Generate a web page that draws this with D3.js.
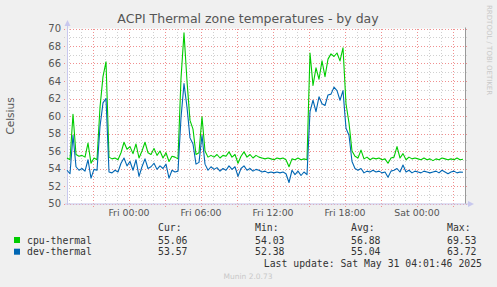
<!DOCTYPE html>
<html>
<head>
<meta charset="utf-8">
<script src="https://cdn.jsdelivr.net/npm/d3@7/dist/d3.min.js"></script>
<style>
  body { margin: 0; background: #f0f0f0; }
  text { font-family: "DejaVu Sans", sans-serif; }
  .mono { font-family: "DejaVu Sans Mono", monospace; }
</style>
</head>
<body>
<script>
// samples every 15 minutes, starting Thu May 29 18:50
const startTime = new Date(2025, 4, 29, 18, 50);
const stepMinutes = 15;

const cpuThermal = [
  55.2, 55.0, 60.2, 55.6, 55.4, 55.5, 55.3, 56.9, 54.6, 55.2, 55.0, 61.0, 64.5, 66.2,
  55.3, 55.1, 55.2, 55.0, 55.8, 57.0, 56.2, 56.5, 55.7, 56.8, 55.2, 56.0, 57.0, 55.8,
  55.6, 56.3, 55.5, 56.0, 55.2, 55.8, 54.8, 55.4, 55.3, 55.1, 64.3, 69.5, 64.0, 59.5,
  58.5, 55.6, 55.8, 59.9, 56.0, 55.3, 55.5, 55.3, 55.6, 55.2, 55.5, 55.4, 55.9, 55.3,
  55.6, 54.6, 55.4, 55.9, 55.3, 55.6, 55.2, 55.5, 55.3, 55.2, 55.1, 55.2, 55.1, 55.0,
  55.2, 55.1, 55.2, 55.0, 54.2, 55.1, 55.0, 55.2, 55.0, 55.1, 55.0, 67.2, 63.5, 65.5,
  64.2, 66.3, 64.5, 66.5, 67.1, 66.8, 67.2, 66.3, 67.8, 61.4, 59.2, 56.0, 55.4, 55.2,
  56.1, 55.1, 55.3, 55.0, 55.2, 55.1, 55.2, 55.0, 55.1, 54.6, 55.2, 55.3, 56.5, 55.2,
  55.7, 55.0, 55.3, 55.1, 55.2, 55.1, 55.0, 55.2, 55.0, 55.1, 54.9, 55.1, 55.0, 55.2,
  55.1, 55.0, 55.1, 55.0, 55.2, 55.0, 55.06
];

const devThermal = [
  53.8, 53.4, 57.8, 54.2, 53.8, 54.0, 53.7, 55.0, 52.9, 53.9, 53.8, 58.8, 61.5, 62.0,
  53.6, 53.5, 53.8, 53.6, 54.6, 55.2, 54.3, 54.8, 53.8, 55.0, 53.1, 54.2, 55.1, 54.0,
  54.2, 54.6, 53.9, 54.3, 54.0, 54.5, 52.9, 53.8, 53.6, 53.7, 59.8, 63.7, 61.0, 57.5,
  56.8, 54.5, 54.7, 57.8, 54.5, 53.8, 54.2, 53.9, 54.1, 53.7, 54.0, 53.8, 54.3, 53.9,
  54.2, 53.1, 54.0, 54.3, 53.8, 54.0, 53.7, 53.9, 53.8, 53.6, 53.7, 53.5, 53.6, 53.5,
  53.6, 53.5, 53.6, 53.4, 52.4, 53.8, 53.3, 53.7, 53.2, 53.6, 53.3, 60.5, 61.8, 60.5,
  62.2, 61.4, 61.2, 62.4, 62.5, 63.3, 62.9, 61.8, 62.9, 58.6, 57.8, 54.8, 54.0, 53.8,
  54.0, 53.5, 53.7, 53.6, 53.8, 53.6, 53.7, 53.5, 53.6, 53.0, 53.7, 53.8, 54.0, 53.6,
  54.4, 53.6, 53.8, 53.5, 53.7, 53.6, 53.5, 53.7, 53.6, 53.5, 53.6, 53.7, 53.5, 53.8,
  53.6, 53.4, 53.6, 53.7, 53.5, 53.6, 53.57
];

const seriesNames = ["cpu-thermal", "dev-thermal"];
const seriesColors = ["#00cc00", "#0066b3"];
const statHeaders = ["Cur:", "Min:", "Avg:", "Max:"];
const cpuStats = ["55.06", "54.03", "56.88", "69.53"];
const devStats = ["53.57", "52.38", "55.04", "63.72"];
const xTickLabels = ["Fri 00:00", "Fri 06:00", "Fri 12:00", "Fri 18:00", "Sat 00:00"];
const yTicks = [50, 52, 54, 56, 58, 60, 62, 64, 66, 68, 70];

const width = 497, height = 287;
const plotLeft = 67, plotRight = 466, plotTop = 28.5, plotBottom = 203.5;
const endTime = new Date(startTime.getTime() + 399 * 5 * 60000);

const svg = d3.select("body").append("svg")
  .attr("width", width)
  .attr("height", height);

svg.append("rect").attr("width", width).attr("height", height).attr("fill", "#f0f0f0");

const x = d3.scaleTime().domain([startTime, endTime]).range([plotLeft, plotRight]);
const y = d3.scaleLinear().domain([50, 70]).range([plotBottom, plotTop]);

// plot background
svg.append("rect")
  .attr("x", plotLeft).attr("y", plotTop)
  .attr("width", plotRight - plotLeft).attr("height", plotBottom - plotTop)
  .attr("fill", "#fff");

// grid
const hours = d3.timeHour.range(startTime, endTime);
const grid = svg.append("g").attr("shape-rendering", "crispEdges");
hours.forEach(h => {
  const major = h.getHours() % 3 === 0;
  const px = Math.round(x(h)) + 0.5;
  grid.append("line")
    .attr("x1", px).attr("x2", px)
    .attr("y1", plotTop).attr("y2", major ? plotBottom + 3 : plotBottom)
    .attr("stroke", major ? "#f09090" : "#d0d0d0")
    .attr("stroke-dasharray", "1,2");
});
d3.range(50, 71, 1).forEach(v => {
  const major = v % 2 === 0;
  const py = Math.round(y(v)) + 0.5;
  grid.append("line")
    .attr("x1", plotLeft - 3).attr("x2", plotRight + 3)
    .attr("y1", py).attr("y2", py)
    .attr("stroke", major ? "#f09090" : "#d0d0d0")
    .attr("stroke-dasharray", "1,2");
});

// axes lines and arrows
svg.append("line")
  .attr("x1", plotLeft + 0.5).attr("x2", plotLeft + 0.5)
  .attr("y1", plotBottom + 1).attr("y2", 24)
  .attr("stroke", "#c8c8ee");
svg.append("line")
  .attr("x1", plotLeft - 2).attr("x2", 470)
  .attr("y1", plotBottom + 0.5).attr("y2", plotBottom + 0.5)
  .attr("stroke", "#c8c8ee");
svg.append("path").attr("d", `M${plotLeft - 2.5},26 L${plotLeft + 0.5},20 L${plotLeft + 3.5},26 Z`).attr("fill", "#c8c8ee");
svg.append("path").attr("d", `M468,${plotBottom - 2.5} L474,${plotBottom + 0.5} L468,${plotBottom + 3.5} Z`).attr("fill", "#c8c8ee");
svg.append("line")
  .attr("x1", plotRight - 0.5).attr("x2", plotRight - 0.5)
  .attr("y1", plotTop - 1).attr("y2", plotBottom)
  .attr("stroke", "#999");

// lines
const line = d3.line()
  .x((d, i) => x(new Date(startTime.getTime() + i * stepMinutes * 60000)))
  .y(d => y(d));
[cpuThermal, devThermal].forEach((s, k) => {
  svg.append("path")
    .datum(s)
    .attr("d", line)
    .attr("fill", "none")
    .attr("stroke", seriesColors[k])
    .attr("stroke-width", 1.1)
    .attr("stroke-linejoin", "round");
});

// y tick labels
svg.append("g").selectAll("text")
  .data(yTicks).join("text")
  .attr("x", 61).attr("y", d => y(d) + 3.5)
  .attr("text-anchor", "end")
  .attr("font-size", 10)
  .attr("fill", "#555")
  .text(d => d);

// x tick labels
const labelTimes = [0, 6, 12, 18, 24].map(h => new Date(2025, 4, 30, h));
svg.append("g").selectAll("text")
  .data(xTickLabels).join("text")
  .attr("x", (d, i) => x(labelTimes[i]))
  .attr("y", 216)
  .attr("text-anchor", "middle")
  .attr("font-size", 9.4)
  .attr("fill", "#555")
  .text(d => d);

// title and axis label
svg.append("text")
  .attr("x", 248).attr("y", 23)
  .attr("text-anchor", "middle")
  .attr("font-size", 12.5)
  .attr("fill", "#555")
  .text("ACPI Thermal zone temperatures - by day");

svg.append("text")
  .attr("transform", "translate(14,116) rotate(-90)")
  .attr("text-anchor", "middle")
  .attr("font-size", 10.5)
  .attr("fill", "#555")
  .text("Celsius");

svg.append("text")
  .attr("transform", "translate(487,5) rotate(90)")
  .attr("font-size", 7)
  .attr("fill", "#c8c8c8")
  .text("RRDTOOL / TOBI OETIKER");

// legend
const statX = [158, 255, 351, 447];
const legend = svg.append("g").attr("class", "mono").attr("font-size", 9.8).attr("fill", "#333");
legend.selectAll(".hdr").data(statHeaders).join("text")
  .attr("class", "mono hdr")
  .attr("x", (d, i) => statX[i]).attr("y", 231)
  .text(d => d);
[cpuStats, devStats].forEach((st, k) => {
  const yy = 243.5 + k * 11.7;
  svg.append("rect")
    .attr("x", 14).attr("y", yy - 6.5)
    .attr("width", 6).attr("height", 6)
    .attr("fill", seriesColors[k]);
  legend.append("text").attr("class", "mono")
    .attr("x", 27).attr("y", yy).text(seriesNames[k]);
  legend.selectAll(".v" + k).data(st).join("text")
    .attr("class", "mono v" + k)
    .attr("x", (d, i) => statX[i]).attr("y", yy)
    .text(d => d);
});
legend.append("text").attr("class", "mono")
  .attr("x", 482).attr("y", 267)
  .attr("text-anchor", "end")
  .text("Last update: Sat May 31 04:01:46 2025");

svg.append("text")
  .attr("x", 248).attr("y", 279)
  .attr("text-anchor", "middle")
  .attr("font-size", 7.5)
  .attr("fill", "#c8c8c8")
  .text("Munin 2.0.73");
</script>
</body>
</html>
